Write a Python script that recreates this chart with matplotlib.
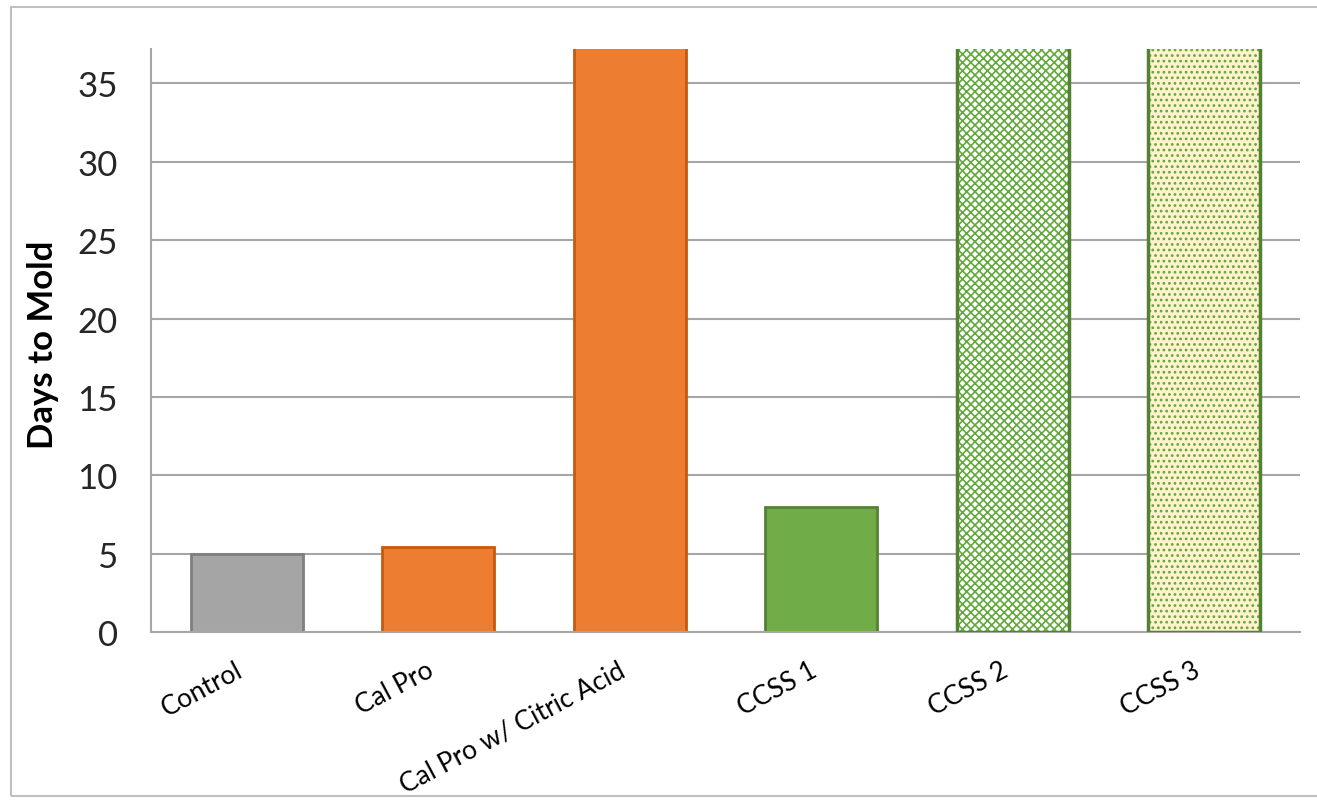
import matplotlib

matplotlib.use("Agg")
import matplotlib.pyplot as plt
from matplotlib.patches import Rectangle
from matplotlib.transforms import ScaledTranslation

categories = ["Control", "Cal Pro", "Cal Pro w/ Citric Acid", "CCSS 1", "CCSS 2", "CCSS 3"]
days_to_mold = [5.0, 5.4, 40.0, 8.0, 40.0, 40.0]

face_colors = ["#A5A5A5", "#ED7D31", "#ED7D31", "#70AD47", "#FFFFFF", "#FFF2CC"]
edge_colors = ["#7F7F7F", "#C55A11", "#C55A11", "#548235", "#548235", "#548235"]
hatches = [None, None, None, None, "xxxx", "..."]

plt.rcParams["font.family"] = ["Lato", "DejaVu Sans"]
plt.rcParams["hatch.linewidth"] = 1.2

fig = plt.figure(figsize=(13.17, 8.03), dpi=100)
ax = fig.add_axes([151 / 1317, 1 - 633 / 803, 1149 / 1317, 583 / 803])

x = range(len(categories))
width = 0.585

# fill + hatch first, outline on top
for i, (v, fc, ec, h) in enumerate(zip(days_to_mold, face_colors, edge_colors, hatches)):
    if h:
        ax.bar(i, v, width, color=fc, edgecolor="#62A83C", hatch=h, linewidth=0, zorder=2)
        ax.bar(i, v, width, fill=False, edgecolor=ec, linewidth=2.5, zorder=3)
    else:
        ax.bar(i, v, width, color=fc, edgecolor=ec, linewidth=2, zorder=2)

ax.set_xlim(-0.5, len(categories) - 0.5)
ax.set_ylim(0, 37.2)
ax.set_yticks(range(0, 36, 5))
ax.yaxis.grid(True, color="#A6A6A6", linewidth=1.5, zorder=0)
ax.set_axisbelow(True)

for side in ["top", "right"]:
    ax.spines[side].set_visible(False)
ax.spines["left"].set_color("#A6A6A6")
ax.spines["left"].set_linewidth(1.5)
ax.spines["bottom"].set_color("#A6A6A6")
ax.spines["bottom"].set_linewidth(1.5)

ax.tick_params(axis="y", length=0, labelsize=25, labelcolor="#262626", pad=24)
ax.tick_params(axis="x", length=0, pad=18)
ax.set_xticks(list(x))
ax.set_xticklabels(categories, rotation=28, ha="right", rotation_mode="anchor",
                   fontsize=19, color="#000000")
shift = ScaledTranslation(-12 / 100, 0, fig.dpi_scale_trans)
for lbl in ax.get_xticklabels():
    lbl.set_transform(lbl.get_transform() + shift)

ax.set_ylabel("Days to Mold", fontsize=25, fontweight="bold")
ax.yaxis.set_label_coords(-0.080, 0.494)

# outer chart border
fig.patches.append(Rectangle((11 / 1317, 1 - 797 / 803), 1 - 11 / 1317 + 0.01, 789 / 803,
                             transform=fig.transFigure, fill=False,
                             edgecolor="#BFBFBF", linewidth=1.5))

fig.savefig("out.png", dpi=100)
